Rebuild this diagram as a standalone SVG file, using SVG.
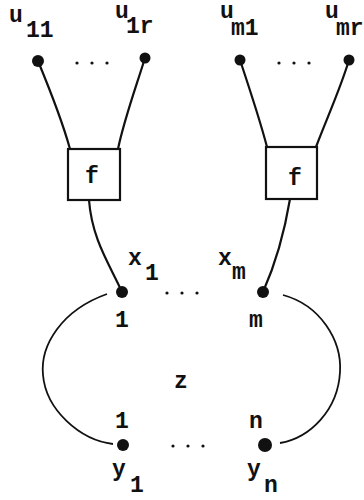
<svg xmlns="http://www.w3.org/2000/svg" width="364" height="500" viewBox="0 0 364 500">
<style>
text{font-family:"Liberation Mono","Courier New",monospace;font-size:23px;font-weight:bold;fill:#111}
.e{fill:none;stroke:#111;stroke-width:2.2;stroke-linecap:round}
.o{fill:none;stroke:#111;stroke-width:1.8}
.n{fill:#111}
.d{fill:#111}
.b{fill:#fff;stroke:#111;stroke-width:2.2}
</style>
<rect width="364" height="500" fill="#fff"/>
<g id="connectors">
<path class="e" d="M38,61 C50,90 62,120 70,149"/>
<path class="e" d="M145,58 C135,90 124,120 118,149"/>
<path class="e" d="M240,60 C250,90 260,120 267,147"/>
<path class="e" d="M349,60 C340,90 326,120 316,147"/>
<path class="e" d="M89,200 C92,240 110,265 122,292"/>
<path class="e" d="M290,199 C284,235 275,265 263,292"/>
<path class="o" d="M107,294 C62,310 40,345 43,375 C46,410 80,440 113,444"/>
<path class="o" d="M283,295 C320,305 342,340 340,372 C338,410 310,438 280,443"/>
</g>
<g id="u11"><circle class="n" cx="38" cy="61" r="6"/><text x="9" y="22">u</text><text x="26" y="37">11</text></g>
<g id="u1r"><circle class="n" cx="145" cy="58" r="5.5"/><text x="115" y="18">u</text><text x="126" y="33">1r</text></g>
<g id="dots-top-left"><circle class="d" cx="77" cy="63" r="1.6"/><circle class="d" cx="92" cy="63" r="1.6"/><circle class="d" cx="107" cy="63" r="1.6"/></g>
<g id="um1"><circle class="n" cx="240" cy="60" r="5.5"/><text x="220" y="18">u</text><text x="231" y="35">m1</text></g>
<g id="umr"><circle class="n" cx="349" cy="60" r="5.5"/><text x="325" y="18">u</text><text x="336" y="35">mr</text></g>
<g id="dots-top-right"><circle class="d" cx="279" cy="63" r="1.6"/><circle class="d" cx="294" cy="63" r="1.6"/><circle class="d" cx="309" cy="63" r="1.6"/></g>
<g id="f1"><rect class="b" x="68" y="149" width="52" height="51"/><text x="85" y="183">f</text></g>
<g id="f2"><rect class="b" x="266" y="147" width="51" height="52"/><text x="288" y="185">f</text></g>
<g id="x1"><circle class="n" cx="122" cy="292" r="6"/><text x="128" y="265">x</text><text x="145" y="280">1</text><text x="115" y="327">1</text></g>
<g id="dots-mid"><circle class="d" cx="167" cy="293" r="1.6"/><circle class="d" cx="182" cy="293" r="1.6"/><circle class="d" cx="197" cy="293" r="1.6"/></g>
<g id="xm"><circle class="n" cx="263" cy="292" r="6"/><text x="218" y="265">x</text><text x="232" y="279">m</text><text x="249" y="327">m</text></g>
<g id="z"><text x="174" y="388">z</text></g>
<g id="y1"><circle class="n" cx="123" cy="445" r="6"/><text x="115" y="428">1</text><text x="112" y="476">y</text><text x="130" y="492">1</text></g>
<g id="dots-bottom"><circle class="d" cx="173" cy="446" r="1.6"/><circle class="d" cx="188" cy="446" r="1.6"/><circle class="d" cx="203" cy="446" r="1.6"/></g>
<g id="yn"><circle class="n" cx="265" cy="445" r="7"/><text x="249" y="428">n</text><text x="247" y="476">y</text><text x="264" y="492">n</text></g>
</svg>
